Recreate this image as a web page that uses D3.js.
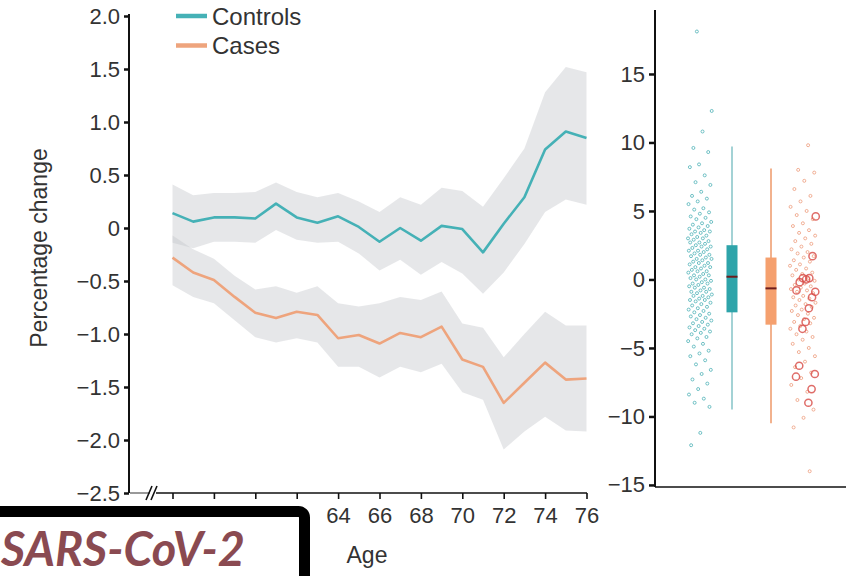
<!DOCTYPE html>
<html><head><meta charset="utf-8">
<script src="https://cdn.jsdelivr.net/npm/d3@7"></script>
<style>
html,body{margin:0;padding:0;background:#fff;overflow:hidden}
svg{display:block;font-family:"Liberation Sans",Arial,sans-serif}
</style></head>
<body><svg id="c" width="846" height="576"></svg>
<script>
// ---- data ----
const ages = [56,57,58,59,60,61,62,63,64,65,66,67,68,69,70,71,72,73,74,75,76];
const xTickAges = [56,58,60,62,64,66,68,70,72,74,76];
const xLabelAges = [64,66,68,70,72,74,76]; // labels for 56–62 are hidden behind the overlay box
const yTicksLeft = [2.0,1.5,1.0,0.5,0,-0.5,-1.0,-1.5,-2.0,-2.5];
const yTicksRight = [15,10,5,0,-5,-10,-15];
const controls = [0.14,0.06,0.10,0.10,0.09,0.23,0.10,0.05,0.11,0.01,-0.13,0.00,-0.12,0.02,-0.01,-0.23,0.04,0.29,0.74,0.91,0.85];
const controlsUpper = [0.41,0.31,0.33,0.33,0.34,0.43,0.34,0.29,0.33,0.25,0.15,0.29,0.22,0.38,0.35,0.20,0.47,0.75,1.28,1.52,1.47];
const controlsLower = [-0.14,-0.19,-0.13,-0.13,-0.14,-0.02,-0.11,-0.14,-0.13,-0.24,-0.40,-0.30,-0.44,-0.32,-0.43,-0.62,-0.42,-0.15,0.15,0.27,0.22];
const cases = [-0.28,-0.42,-0.49,-0.65,-0.80,-0.85,-0.79,-0.82,-1.04,-1.01,-1.09,-0.99,-1.03,-0.93,-1.24,-1.31,-1.65,-1.46,-1.27,-1.43,-1.42];
const casesUpper = [-0.07,-0.20,-0.29,-0.45,-0.58,-0.55,-0.61,-0.55,-0.71,-0.74,-0.71,-0.65,-0.68,-0.60,-0.90,-0.94,-1.22,-1.00,-0.79,-0.92,-0.92];
const casesLower = [-0.54,-0.65,-0.71,-0.87,-1.03,-1.08,-1.04,-1.08,-1.31,-1.31,-1.41,-1.31,-1.36,-1.28,-1.55,-1.62,-2.09,-1.92,-1.78,-1.91,-1.92];
const seriesNames = ["Controls","Cases"];

const controlsPoints = [18.1,12.3,10.8,9.6,9.3,8.4,8.2,7.6,7.1,6.9,6.4,6.1,5.9,5.7,5.5,5.2,5.1,4.9,4.8,4.6,4.5,4.4,4.2,4.1,4.0,3.9,3.8,3.7,3.6,3.5,3.5,3.4,3.3,3.2,3.1,3.0,3.0,2.9,2.8,2.7,2.7,2.6,2.5,2.4,2.4,2.3,2.2,2.1,2.1,2.0,1.9,1.8,1.8,1.7,1.6,1.5,1.5,1.4,1.3,1.2,1.2,1.1,1.0,0.9,0.9,0.8,0.7,0.6,0.6,0.5,0.4,0.3,0.3,0.2,0.1,0.0,0.0,-0.1,-0.2,-0.3,-0.3,-0.4,-0.5,-0.6,-0.6,-0.7,-0.8,-0.9,-0.9,-1.0,-1.1,-1.2,-1.2,-1.3,-1.4,-1.5,-1.5,-1.6,-1.7,-1.8,-1.9,-2.0,-2.1,-2.2,-2.3,-2.4,-2.5,-2.6,-2.7,-2.8,-2.9,-3.0,-3.1,-3.2,-3.3,-3.4,-3.5,-3.6,-3.7,-3.8,-3.9,-4.0,-4.2,-4.3,-4.5,-4.7,-4.9,-5.2,-5.4,-5.6,-5.9,-6.2,-6.6,-6.9,-7.3,-7.6,-8.0,-8.4,-8.7,-9.0,-9.3,-11.2,-12.1];
const casesPoints = [9.8,8.0,7.8,7.2,6.6,6.1,5.7,5.3,5.0,4.7,4.4,4.1,3.9,3.6,3.4,3.2,3.0,2.8,2.6,2.4,2.2,2.0,1.9,1.7,1.6,1.4,1.3,1.1,1.0,0.8,0.7,0.5,0.4,0.3,0.1,0.0,-0.1,-0.3,-0.4,-0.5,-0.6,-0.7,-0.8,-0.9,-1.0,-1.2,-1.3,-1.4,-1.5,-1.7,-1.8,-1.9,-2.0,-2.2,-2.3,-2.5,-2.6,-2.8,-2.9,-3.1,-3.2,-3.4,-3.6,-3.8,-4.0,-4.2,-4.4,-4.7,-5.0,-5.3,-5.6,-6.0,-6.4,-6.8,-7.2,-7.7,-8.2,-8.8,-9.5,-10.1,-10.8,-14.0];
const casesHighlight = [4.6,1.7,0.1,0.0,0.1,-0.2,-0.8,-0.9,-1.3,-2.1,-3.1,-3.6,-6.3,-7.1,-6.9,-8.0,-9.0];
// box stats: [whiskerLow, q1, median, q3, whiskerHigh]
const controlsBox = [-9.5,-2.4,0.2,2.5,9.7];
const casesBox = [-10.5,-3.3,-0.65,1.6,8.1];

// ---- layout ----
const svg = d3.select("#c");
const teal = "#45b1b6", orange = "#eea47d";
const x = d3.scaleLinear().domain([56,76]).range([172.5,586.5]);
const y = d3.scaleLinear().domain([-2.5,2.0]).range([493,16]);
const yr = d3.scaleLinear().domain([-15.15,19.67]).range([487,10]);
const tickFont = "22px";

// bands
const area = (lo, hi) => d3.area().x((d,i)=>x(ages[i])).y0((d,i)=>y(lo[i])).y1((d,i)=>y(hi[i]));
svg.append("path").attr("d", area(controlsLower, controlsUpper)(ages))
  .attr("fill","#c4c6cb").attr("fill-opacity",0.42);
svg.append("path").attr("d", area(casesLower, casesUpper)(ages))
  .attr("fill","#c4c6cb").attr("fill-opacity",0.42);

const line = vals => d3.line().x((d,i)=>x(ages[i])).y((d,i)=>y(vals[i]));
svg.append("path").attr("d", line(controls)(ages)).attr("fill","none").attr("stroke",teal).attr("stroke-width",2.6).attr("stroke-linejoin","round");
svg.append("path").attr("d", line(cases)(ages)).attr("fill","none").attr("stroke",orange).attr("stroke-width",2.6).attr("stroke-linejoin","round");

// left y axis
const gy = svg.append("g").attr("transform","translate(129,0)")
  .call(d3.axisLeft(y).tickValues(yTicksLeft).tickSize(5).tickPadding(4)
    .tickFormat(d => d===0 ? "0" : d3.format(".1f")(d)));
gy.select(".domain").attr("d","M0,14V493").attr("stroke","#111").attr("stroke-width",2);
gy.selectAll(".tick line").attr("stroke","#111").attr("stroke-width",2.5);
gy.selectAll(".tick text").attr("font-size",tickFont).attr("fill","#333").attr("font-family","Liberation Sans, Arial, sans-serif");

// x axis
const gx = svg.append("g").attr("transform","translate(0,493)")
  .call(d3.axisBottom(x).tickValues(xTickAges).tickSize(6).tickPadding(8)
    .tickFormat(d => xLabelAges.includes(d) ? d3.format("d")(d) : ""));
gx.select(".domain").attr("d","M156,0H587").attr("stroke","#111").attr("stroke-width",1.6);
gx.selectAll(".tick line").attr("stroke","#111").attr("stroke-width",1.6);
gx.selectAll(".tick text").attr("font-size",tickFont).attr("fill","#333").attr("font-family","Liberation Sans, Arial, sans-serif");
svg.append("line").attr("x1",130).attr("x2",150).attr("y1",493).attr("y2",493).attr("stroke","#999").attr("stroke-width",2);
svg.append("path").attr("d","M146,500L152,486M151,500L157,486").attr("stroke","#111").attr("stroke-width",1.6).attr("fill","none");

// axis titles
svg.append("text").attr("transform","translate(47,248) rotate(-90)").attr("text-anchor","middle")
  .attr("font-size","23px").attr("fill","#333").text("Percentage change");
svg.append("text").attr("x",367).attr("y",563).attr("text-anchor","middle")
  .attr("font-size","23px").attr("fill","#333").text("Age");

// legend
const leg = svg.append("g");
[teal, orange].forEach((c,i)=>{
  leg.append("line").attr("x1",176).attr("x2",207).attr("y1",16+i*29.5).attr("y2",16+i*29.5).attr("stroke",c).attr("stroke-width",4.5);
  leg.append("text").attr("x",212).attr("y",24.5+i*29.5).attr("font-size","24px").attr("fill","#333").text(seriesNames[i]);
});

// ---- right panel ----
const gyr = svg.append("g").attr("transform","translate(655,0)")
  .call(d3.axisLeft(yr).tickValues(yTicksRight).tickSize(6).tickPadding(4));
gyr.select(".domain").attr("d","M0,10V487").attr("stroke","#111").attr("stroke-width",2);
gyr.selectAll(".tick line").attr("stroke","#111").attr("stroke-width",2.5);
gyr.selectAll(".tick text").attr("font-size",tickFont).attr("fill","#333").attr("font-family","Liberation Sans, Arial, sans-serif");
svg.append("line").attr("x1",655).attr("x2",846).attr("y1",487).attr("y2",487).attr("stroke","#111").attr("stroke-width",1.6);

const jit = i => ((i*0.6180339887 + 0.37) % 1) - 0.5;
svg.append("g").selectAll("circle").data(controlsPoints).join("circle")
  .attr("cx",(d,i)=>700 + jit(i)*24).attr("cy",d=>yr(d)).attr("r",1.5)
  .attr("fill","none").attr("stroke","#3eaab0").attr("stroke-width",0.9).attr("stroke-opacity",0.8);
svg.append("g").selectAll("circle").data(casesPoints).join("circle")
  .attr("cx",(d,i)=>803 + jit(i+7)*26).attr("cy",d=>yr(d)).attr("r",1.5)
  .attr("fill","none").attr("stroke","#ec9270").attr("stroke-width",0.9).attr("stroke-opacity",0.8);
svg.append("g").selectAll("circle").data(casesHighlight).join("circle")
  .attr("cx",(d,i)=>805 + jit(i*3+1)*22).attr("cy",d=>yr(d)).attr("r",3.6)
  .attr("fill","none").attr("stroke","#d9544f").attr("stroke-width",1.5).attr("stroke-opacity",0.85);

function box(cx, s, fill, wcol){
  svg.append("line").attr("x1",cx).attr("x2",cx).attr("y1",yr(s[0])).attr("y2",yr(s[4])).attr("stroke",wcol).attr("stroke-width",2);
  svg.append("rect").attr("x",cx-5.5).attr("width",11).attr("y",yr(s[3])).attr("height",yr(s[1])-yr(s[3])).attr("fill",fill);
  svg.append("line").attr("x1",cx-5.5).attr("x2",cx+5.5).attr("y1",yr(s[2])).attr("y2",yr(s[2])).attr("stroke","#6e1d1d").attr("stroke-width",2);
}
box(732, controlsBox, "#2ea4aa", "#a3d2d5");
box(771, casesBox, "#f5a06e", "#f2b28e");

// ---- overlay label box ----
svg.append("rect").attr("x",-20).attr("y",511.5).attr("width",324.5).attr("height",100).attr("rx",6)
  .attr("fill","#fff").attr("stroke","#000").attr("stroke-width",11);
svg.append("text").attr("x",1).attr("y",566).attr("font-family","Lato, 'Open Sans', sans-serif")
  .attr("font-weight","bold").attr("font-style","italic").attr("font-size","48px").attr("fill","#8a4a51")
  .attr("textLength",244).attr("lengthAdjust","spacingAndGlyphs").text("SARS-CoV-2");
</script></body></html>
